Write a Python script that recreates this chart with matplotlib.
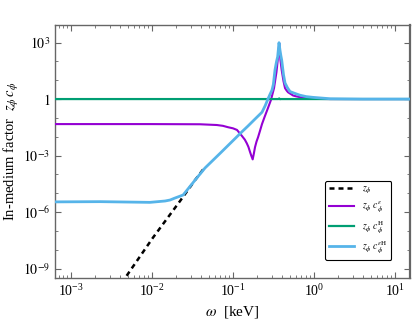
import matplotlib
matplotlib.use("Agg")
import matplotlib.pyplot as plt
import matplotlib.ticker as mticker
import numpy as np

plt.rcParams['font.family'] = ['Liberation Serif', 'DejaVu Serif']
plt.rcParams['mathtext.fontset'] = 'stix'

# values (omega in keV)
omega_z = [4.2e-3, 1.03e-2, 2.22e-2, 3.40e-2, 4.51e-2]
z_phi = [1.7e-10, 4.5e-8, 3.9e-6, 5.0e-5, 2.5e-4]

omega_e = [6.3e-4, 9.4e-3, 0.039, 0.063, 0.075, 0.087, 0.100, 0.112, 0.129, 0.140,
           0.148, 0.155, 0.162, 0.168, 0.175, 0.181, 0.187, 0.195, 0.204, 0.215,
           0.228, 0.245, 0.270, 0.294, 0.321, 0.344, 0.362, 0.372, 0.385, 0.399,
           0.420, 0.439, 0.460, 0.478, 0.551, 0.600, 0.711, 0.850, 1.03, 1.58, 4.0, 17.0]
zc_e = [0.047, 0.047, 0.046, 0.042, 0.038, 0.032, 0.028, 0.023, 0.011, 7.0e-3,
        4.5e-3, 2.9e-3, 1.6e-3, 1.0e-3, 6.3e-4, 1.3e-3, 2.8e-3, 5.5e-3, 9.5e-3, 0.020,
        0.047, 0.11, 0.33, 0.89, 3.8, 27, 210, 930, 120, 35,
        9.0, 3.8, 2.8, 2.3, 1.55, 1.4, 1.2, 1.1, 1.02, 1.0, 1.0, 1.0]

omega_h = [6.3e-4, 0.30, 0.365, 0.372, 0.38, 0.39, 1.0, 17.0]
zc_h = [1.0, 1.0, 1.0, 1.08, 0.98, 1.0, 1.0, 1.0]

omega_eh = [6.3e-4, 2.3e-3, 9.4e-3, 1.45e-2, 1.67e-2, 1.92e-2, 2.42e-2, 2.78e-2, 3.40e-2,
            4.51e-2, 6.9e-2, 0.106, 0.130, 0.153, 0.190, 0.228, 0.250, 0.270, 0.285,
            0.303, 0.315, 0.330, 0.345, 0.356, 0.370, 0.380, 0.390, 0.399, 0.420,
            0.439, 0.470, 0.506, 0.580, 0.671, 0.800, 0.973, 1.58, 4.0, 17.0]
zc_eh = [3.5e-6, 3.6e-6, 3.3e-6, 3.9e-6, 4.4e-6, 5.6e-6, 8.1e-6, 1.7e-5, 5.0e-5,
         2.2e-4, 1.3e-3, 8.0e-3, 0.019, 0.037, 0.093, 0.20, 0.45, 1.0, 1.7,
         3.0, 6.0, 35, 100, 175, 980, 400, 200, 120, 20,
         7.1, 4.0, 2.5, 2.0, 1.6, 1.35, 1.23, 1.04, 1.0, 1.0]

y_ticks = [1e3, 1, 1e-3, 1e-6, 1e-9]
y_ticklabels = [r'$10^{3}$', r'$1$', r'$10^{-3}$', r'$10^{-6}$', r'$10^{-9}$']

fig = plt.figure(figsize=(4.2, 3.29), dpi=100)
ax = fig.add_axes([0.131, 0.155, 0.845, 0.769])

ax.plot(omega_z, z_phi, color='black', linestyle=(0, (2, 1.6)), linewidth=1.8,
        label=r'$z_\phi$', zorder=2)
ax.plot(omega_e, zc_e, color='#9400D3', linewidth=1.5,
        label=r'$z_\phi\ c_\phi^{\varepsilon}$', zorder=3)
ax.plot(omega_h, zc_h, color='#009E73', linewidth=1.6,
        label=r'$z_\phi\ c_\phi^{\mathrm{H}}$', zorder=3)
ax.plot(omega_eh, zc_eh, color='#56B4E9', linewidth=2.0,
        label=r'$z_\phi\ c_\phi^{\varepsilon\mathrm{H}}$', zorder=4)

ax.set_xscale('log')
ax.set_yscale('log')
ax.set_xlim(6.34e-4, 15.3)
ax.set_ylim(3.2e-10, 8.5e3)

ax.set_yticks(y_ticks)
ax.set_yticklabels(y_ticklabels)
ax.yaxis.set_minor_locator(mticker.LogLocator(base=10, subs=(1.0,), numticks=30))
ax.yaxis.set_minor_formatter(mticker.NullFormatter())
ax.xaxis.set_minor_locator(mticker.LogLocator(base=10, subs=np.arange(2, 10), numticks=30))
ax.xaxis.set_minor_formatter(mticker.NullFormatter())

ax.tick_params(which='both', direction='in', top=True, right=True, colors='0.4',
               labelcolor='black', labelsize=10)
ax.tick_params(which='major', length=4, width=0.8)
ax.tick_params(which='minor', length=2, width=0.6)
for s in ax.spines.values():
    s.set_color('0.4')
    s.set_linewidth(1.0)
ax.spines['right'].set_linewidth(1.6)

ax.set_xlabel(r'$\omega$  [keV]', fontsize=11)
ax.set_ylabel(r'In-medium factor  $z_\phi\, c_\phi$', fontsize=10.5, labelpad=1)

leg = ax.legend(loc='lower right', bbox_to_anchor=(0.948, 0.072), borderaxespad=0,
                fontsize=7, handlelength=2.6, labelspacing=0.4, fancybox=True,
                edgecolor='black', framealpha=1)
leg.get_frame().set_linewidth(0.8)

fig.savefig('out.png', dpi=100)
